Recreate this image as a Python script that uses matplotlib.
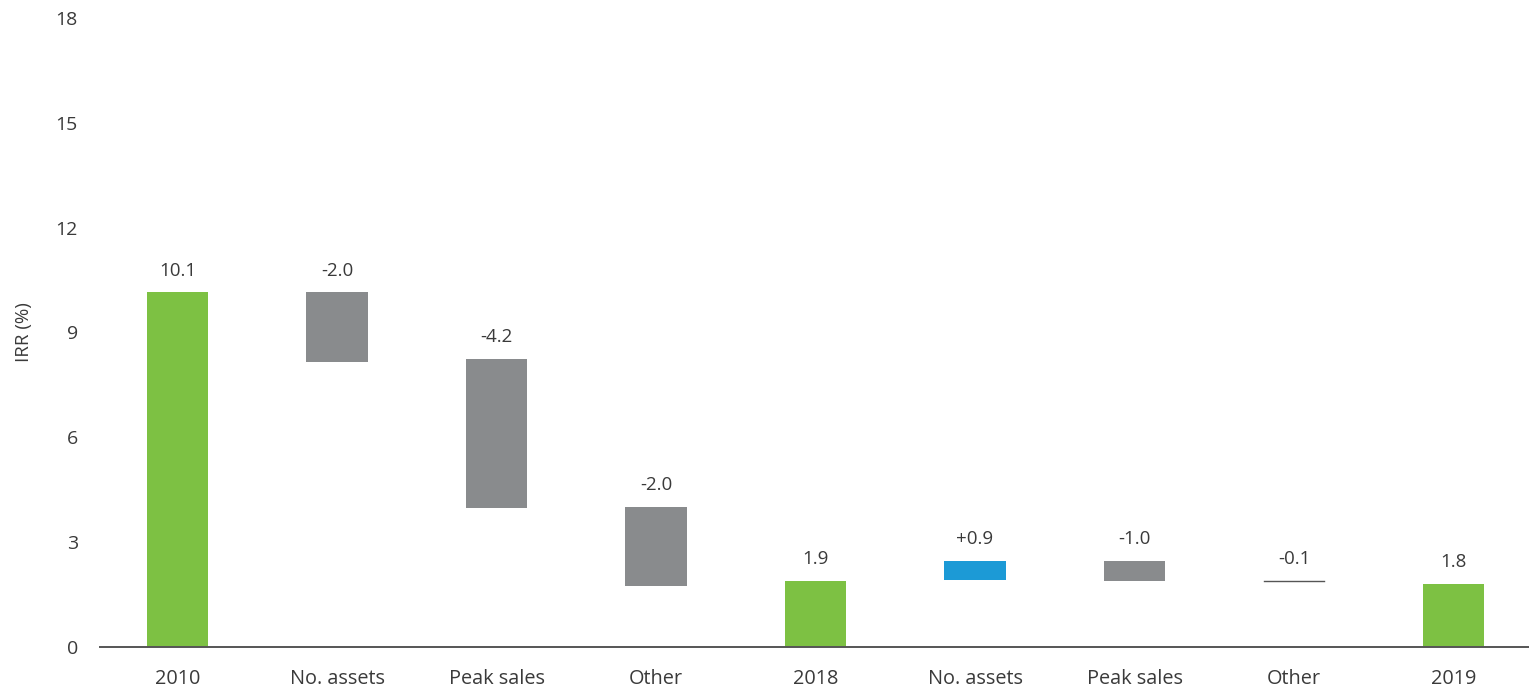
import matplotlib
matplotlib.use("Agg")
import matplotlib.pyplot as plt

plt.rcParams.update({"font.family": ["Open Sans", "DejaVu Sans"], "font.size": 14})

# waterfall steps: level where each bar starts and where it ends (IRR %)
categories = ["2010", "No. assets", "Peak sales", "Other", "2018",
              "No. assets", "Peak sales", "Other", "2019"]
start_level = [0, 10.15, 8.25, 4.0, 0, 1.9, 2.45, 1.9, 0]
end_level = [10.15, 8.15, 3.98, 1.73, 1.88, 2.46, 1.89, 1.88, 1.8]
value_labels = ["10.1", "-2.0", "-4.2", "-2.0", "1.9", "+0.9", "-1.0", "-0.1", "1.8"]
kind = ["total", "down", "down", "down", "total", "up", "down", "down", "total"]

COLORS = {"total": "#7dc143", "down": "#898b8d", "up": "#1c9ad6"}
TEXT = "#3a3a3a"

fig = plt.figure(figsize=(15.29, 6.94), dpi=100)
ax = fig.add_axes([100 / 1529, 47.5 / 694, 1 - 100 / 1529, 628.2 / 694])

x = range(len(categories))
for xi, s, e, k, lab in zip(x, start_level, end_level, kind, value_labels):
    lo, hi = min(s, e), max(s, e)
    if hi - lo < 0.1:
        # tiny change drawn as a thin line
        ax.plot([xi - 0.19, xi + 0.19], [e, e], color="#555555", lw=1)
    else:
        ax.bar(xi, hi - lo, bottom=lo, width=0.385, color=COLORS[k])
    ax.annotate(lab, (xi, hi), textcoords="offset points", xytext=(0, 9),
                ha="center", va="bottom", fontsize=13.5, color=TEXT)

ax.set_xlim(-0.486, 8.473)
ax.set_ylim(0, 18)
ax.set_yticks([0, 3, 6, 9, 12, 15, 18])
ax.set_xticks(list(x))
ax.set_xticklabels(categories)
ax.tick_params(axis="x", length=0, pad=16, labelsize=14.3, labelcolor=TEXT)
ax.tick_params(axis="y", length=0, pad=16, labelsize=14, labelcolor=TEXT)
ax.set_ylabel("IRR (%)", fontsize=13.5, color=TEXT)
ax.yaxis.set_label_coords(-0.047, 0.5)
for side in ("top", "right", "left"):
    ax.spines[side].set_visible(False)
ax.spines["bottom"].set_color("#555555")
ax.spines["bottom"].set_linewidth(1.4)

fig.savefig("out.png", dpi=100)
